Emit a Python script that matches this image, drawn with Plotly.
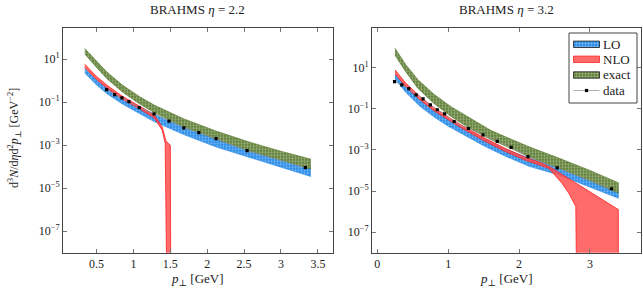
import numpy as np
import plotly.graph_objects as go

# ---------------- data (log10 of yield) ----------------
# Left panel: BRAHMS eta = 2.2
L_data_pt = [0.636, 0.745, 0.844, 0.939, 1.079, 1.279, 1.482, 1.682, 1.886, 2.12, 2.54, 3.33]
L_data_log = [-0.41, -0.64, -0.80, -0.97, -1.25, -1.54, -1.88, -2.19, -2.41, -2.69, -3.25, -4.04]

L_band_pt = [0.34, 0.5, 0.64, 0.85, 1.08, 1.28, 1.68, 2.12, 2.55, 3.0, 3.4]
L_exact_up = [1.50, 0.90, 0.41, -0.20, -0.73, -1.13, -1.77, -2.34, -2.83, -3.28, -3.64]
L_exact_lo = [1.25, 0.62, 0.10, -0.52, -1.07, -1.48, -2.14, -2.72, -3.23, -3.70, -4.10]
L_lo_up = [0.57, 0.05, -0.32, -0.78, -1.20, -1.55, -2.15, -2.72, -3.20, -3.65, -4.05]
L_lo_lo = [0.36, -0.20, -0.60, -1.08, -1.52, -1.90, -2.50, -3.08, -3.55, -4.02, -4.45]

L_nlo_up_pt = [0.34, 0.5, 0.64, 0.85, 1.08, 1.28, 1.39, 1.44, 1.50, 1.505]
L_nlo_up = [0.77, 0.20, -0.20, -0.72, -1.18, -1.58, -2.15, -2.80, -3.00, -9.0]
L_nlo_lo_pt = [0.34, 0.5, 0.64, 0.85, 1.08, 1.28, 1.39, 1.43, 1.45]
L_nlo_lo = [0.62, 0.06, -0.34, -0.85, -1.30, -1.72, -2.30, -2.90, -9.0]

# Right panel: BRAHMS eta = 3.2
R_data_pt = [0.243, 0.345, 0.444, 0.547, 0.645, 0.748, 0.846, 0.949, 1.084, 1.285,
             1.491, 1.692, 1.888, 2.126, 2.538, 3.305]
R_data_log = [0.32, 0.16, -0.02, -0.33, -0.52, -0.81, -1.05, -1.25, -1.62, -1.96,
              -2.27, -2.59, -2.88, -3.33, -3.88, -4.89]

R_exact_pt = [0.25, 0.4, 0.57, 0.8, 1.04, 1.3, 1.6, 1.9, 2.14, 2.56, 3.0, 3.4]
R_exact_up = [1.94, 1.15, 0.42, -0.30, -0.90, -1.45, -2.05, -2.50, -2.85, -3.40, -4.00, -4.60]
R_exact_lo = [1.60, 0.80, 0.00, -0.75, -1.38, -1.95, -2.50, -2.95, -3.35, -3.88, -4.50, -5.10]

R_lo_pt = [0.25, 0.4, 0.6, 0.8, 1.0, 1.2, 1.5, 1.8, 2.14, 2.56, 3.0, 3.4]
R_lo_up = [0.69, 0.10, -0.55, -1.05, -1.50, -1.90, -2.45, -2.95, -3.40, -3.85, -4.40, -4.95]
R_lo_lo = [0.45, -0.20, -0.88, -1.40, -1.85, -2.25, -2.80, -3.30, -3.80, -4.22, -4.80, -5.35]

R_nlo_up_pt = [0.25, 0.4, 0.6, 0.8, 1.0, 1.2, 1.5, 1.8, 2.1, 2.3, 2.46, 2.8, 3.1, 3.4]
R_nlo_up = [0.89, 0.25, -0.40, -0.95, -1.40, -1.82, -2.40, -2.92, -3.38, -3.62, -3.88, -4.60, -5.25, -5.90]
R_nlo_lo_pt = [0.25, 0.4, 0.6, 0.8, 1.0, 1.2, 1.5, 1.8, 2.1, 2.3, 2.42, 2.6, 2.7, 2.8, 2.81, 3.4]
R_nlo_lo = [0.69, 0.08, -0.56, -1.10, -1.55, -1.96, -2.55, -3.07, -3.52, -3.75, -3.90, -4.60, -5.10, -5.75, -9.0, -9.0]

y_tick_exp = [1, -1, -3, -5, -7]
L_xticks = [0.5, 1, 1.5, 2, 2.5, 3, 3.5]
R_xticks = [0, 1, 2, 3]
legend_labels = ["LO", "NLO", "exact", "data"]

# ---------------- styling ----------------
FONT = "Liberation Serif, DejaVu Serif, serif"
BLUE = "#2b8ce8"
GREEN = "#55752b"
RED = "#ff2020"
RED_FILL = "rgba(255,80,80,0.85)"
DATA_LINE = "#9a9a9a"
W, H = 643, 291

BLUE_PAT = dict(shape=".", bgcolor=BLUE, fgcolor="#e2f0ff", size=3, solidity=0.35)
GREEN_PAT = dict(shape=".", bgcolor=GREEN, fgcolor="#e0ead0", size=3, solidity=0.5)


def band(xu, yu, xl, yl):
    x = list(xu) + list(reversed(xl))
    y = [10 ** v for v in yu] + [10 ** v for v in reversed(yl)]
    return x, y


fig = go.Figure()


def add_panel(xa, ya, lo, nlo, ex, dat):
    x, y = band(*lo)
    fig.add_trace(go.Scatter(x=x, y=y, mode="lines", fill="toself", name="LO",
                             line=dict(color=BLUE, width=0.6), fillcolor=BLUE,
                             fillpattern=BLUE_PAT, xaxis=xa, yaxis=ya, hoverinfo="skip"))
    x, y = band(*nlo)
    fig.add_trace(go.Scatter(x=x, y=y, mode="lines", fill="toself", name="NLO",
                             line=dict(color=RED, width=0.8), fillcolor=RED_FILL,
                             xaxis=xa, yaxis=ya, hoverinfo="skip"))
    x, y = band(*ex)
    fig.add_trace(go.Scatter(x=x, y=y, mode="lines", fill="toself", name="exact",
                             line=dict(color=GREEN, width=0.6), fillcolor=GREEN,
                             fillpattern=GREEN_PAT, xaxis=xa, yaxis=ya, hoverinfo="skip"))
    fig.add_trace(go.Scatter(x=dat[0], y=[10 ** v for v in dat[1]], mode="lines+markers",
                             name="data", line=dict(color=DATA_LINE, width=0.7),
                             marker=dict(color="black", size=3.2, symbol="square"),
                             xaxis=xa, yaxis=ya, hoverinfo="skip"))


add_panel("x", "y",
          (L_band_pt, L_lo_up, L_band_pt, L_lo_lo),
          (L_nlo_up_pt, L_nlo_up, L_nlo_lo_pt, L_nlo_lo),
          (L_band_pt, L_exact_up, L_band_pt, L_exact_lo),
          (L_data_pt, L_data_log))
add_panel("x2", "y2",
          (R_lo_pt, R_lo_up, R_lo_pt, R_lo_lo),
          (R_nlo_up_pt, R_nlo_up, R_nlo_lo_pt, R_nlo_lo),
          (R_exact_pt, R_exact_up, R_exact_pt, R_exact_lo),
          (R_data_pt, R_data_log))

# ---------------- manual legend (own hidden axis, units 0..1) ----------------
LX0, LX1, LY0, LY1 = 569, 637, 33, 103          # legend box in px
lg_x = lambda px: (px - LX0) / (LX1 - LX0)
lg_y = lambda py: (LY1 - py) / (LY1 - LY0)
centers = [44.3, 59.3, 75.0, 90.5]
sw0, sw1, half = 573.5, 599.5, 3.2
styles = [
    dict(line=dict(color="#1a1a1a", width=0.8), fillcolor=BLUE, fillpattern=BLUE_PAT),
    dict(line=dict(color=RED, width=0.8), fillcolor=RED_FILL),
    dict(line=dict(color="#1a1a1a", width=0.8), fillcolor=GREEN, fillpattern=GREEN_PAT),
]
for i, st in enumerate(styles):
    c = centers[i]
    xs = [lg_x(sw0), lg_x(sw1), lg_x(sw1), lg_x(sw0), lg_x(sw0)]
    ys = [lg_y(c - half), lg_y(c - half), lg_y(c + half), lg_y(c + half), lg_y(c - half)]
    fig.add_trace(go.Scatter(x=xs, y=ys, mode="lines", fill="toself", xaxis="x3", yaxis="y3",
                             hoverinfo="skip", **st))
c = centers[3]
fig.add_trace(go.Scatter(x=[lg_x(sw0), lg_x(sw1)], y=[lg_y(c), lg_y(c)], mode="lines",
                         line=dict(color=DATA_LINE, width=0.8), xaxis="x3", yaxis="y3",
                         hoverinfo="skip"))
fig.add_trace(go.Scatter(x=[lg_x((sw0 + sw1) / 2)], y=[lg_y(c)], mode="markers",
                         marker=dict(color="black", size=3.2, symbol="square"),
                         xaxis="x3", yaxis="y3", hoverinfo="skip"))

ytickvals = [10 ** e for e in y_tick_exp]
yticktext = ["10<sup>%s</sup>" % (str(e).replace("-", "\u2212")) for e in y_tick_exp]

axis_common = dict(showline=True, linecolor="#444", linewidth=1, mirror="allticks",
                   ticks="inside", ticklen=4, tickcolor="#777", showgrid=False,
                   zeroline=False, automargin=False,
                   tickfont=dict(family=FONT, size=12, color="#222"))
hidden = dict(visible=False, showgrid=False, zeroline=False, range=[0, 1],
              automargin=False, fixedrange=True)

top_px, bot_px = 27.7, 252.7
ydom = [1 - bot_px / H, 1 - top_px / H]

fig.update_layout(
    width=W, height=H,
    margin=dict(l=0, r=0, t=0, b=0, autoexpand=False),
    paper_bgcolor="white", plot_bgcolor="white",
    font=dict(family=FONT, size=12, color="#222"),
    showlegend=False,
    xaxis=dict(domain=[63 / W, 333 / W], range=[0.045, 3.705], anchor="y",
               tickvals=L_xticks, ticktext=[str(v) for v in L_xticks], **axis_common),
    yaxis=dict(domain=ydom, type="log", range=[-8.0, 2.47], anchor="x",
               tickvals=ytickvals, ticktext=yticktext, **axis_common),
    xaxis2=dict(domain=[372 / W, 641 / W], range=[-0.075, 3.72], anchor="y2",
                tickvals=R_xticks, ticktext=[str(v) for v in R_xticks], **axis_common),
    yaxis2=dict(domain=ydom, type="log", range=[-8.0, 2.94], anchor="x2",
                tickvals=ytickvals, ticktext=yticktext, **axis_common),
    xaxis3=dict(domain=[LX0 / W, LX1 / W], anchor="y3", **hidden),
    yaxis3=dict(domain=[1 - LY1 / H, 1 - LY0 / H], anchor="x3", **hidden),
)

fig.add_shape(type="rect", xref="paper", yref="paper",
              x0=LX0 / W, x1=LX1 / W, y0=1 - LY1 / H, y1=1 - LY0 / H,
              line=dict(color="#444", width=1), fillcolor="rgba(0,0,0,0)", layer="above")

for lab, c in zip(legend_labels, centers):
    fig.add_annotation(xref="paper", yref="paper", showarrow=False, x=601 / W, y=1 - c / H,
                       xanchor="left", yanchor="middle", text=lab,
                       font=dict(family=FONT, size=13, color="#222"))

ann = [
    dict(text="BRAHMS <i>η</i> = 2.2", x=198 / W, y=1 - 10 / H, yanchor="middle"),
    dict(text="BRAHMS <i>η</i> = 3.2", x=506 / W, y=1 - 10 / H, yanchor="middle"),
    dict(text="<i>p</i><sub>⊥</sub> [GeV]", x=198 / W, y=1 - 290 / H, yanchor="bottom"),
    dict(text="<i>p</i><sub>⊥</sub> [GeV]", x=506 / W, y=1 - 290 / H, yanchor="bottom"),
]
for a in ann:
    fig.add_annotation(xref="paper", yref="paper", showarrow=False, xanchor="center",
                       font=dict(family=FONT, size=13, color="#222"), **a)
fig.add_annotation(xref="paper", yref="paper", showarrow=False,
                   x=14 / W, y=1 - 138 / H, xanchor="center", yanchor="middle",
                   textangle=-90,
                   text="d<sup>3</sup><i>N</i>/d<i>η</i>d<sup>2</sup><i>p</i><sub>⊥</sub> [GeV<sup>−2</sup>]",
                   font=dict(family=FONT, size=12, color="#222"))

fig.write_html(
    "out.html",
    config={"displayModeBar": False, "staticPlot": True},
    post_script="document.body.style.margin='0';document.body.style.padding='0';"
                "document.documentElement.style.overflow='hidden';",
)
